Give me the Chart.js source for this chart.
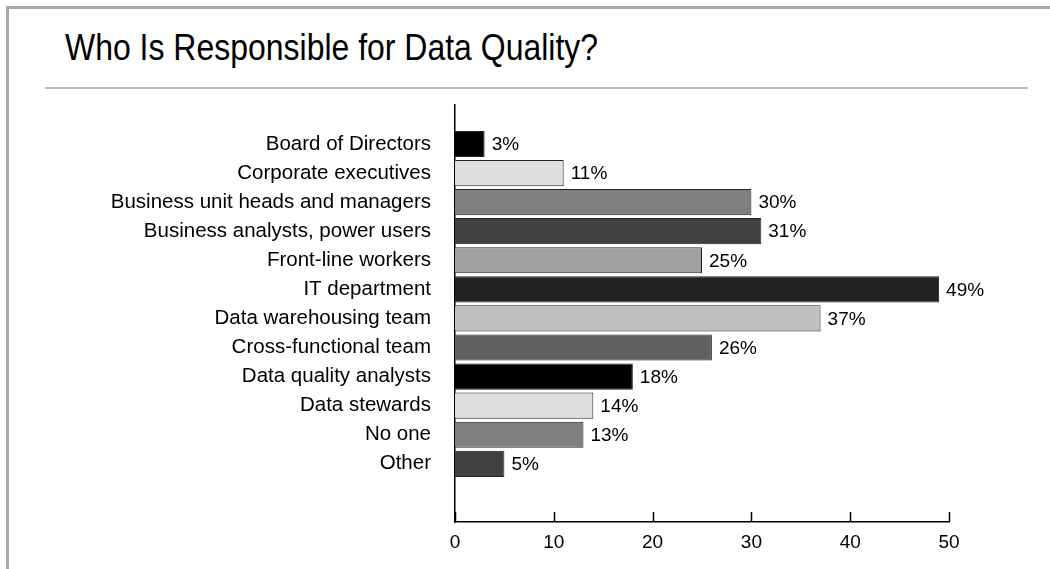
<!DOCTYPE html>
<html>
<head>
<meta charset="utf-8">
<script src="https://cdn.jsdelivr.net/npm/chart.js@4.4.1/dist/chart.umd.min.js"></script>
<style>
  html, body { margin: 0; padding: 0; background: #fff; }
  body { width: 1050px; height: 569px; position: relative; overflow: hidden;
    font-family: 'Liberation Sans', Arial, sans-serif; }
  .frame { position: absolute; left: 6px; top: 6px; right: -4px; bottom: -4px;
    border-top: 3px solid #aaa; border-left: 3px solid #aaa; }
  h1 { position: absolute; left: 65px; top: 30px; margin: 0; font-weight: normal; font-size: 36px;
    line-height: 36px; color: #000; white-space: nowrap; transform: scaleX(0.888); transform-origin: 0 0; }
  .rule { position: absolute; left: 45px; width: 983px; top: 87px; height: 2px; background: #bdbdbd; }
  #c { position: absolute; left: 0; top: 0; }
</style>
</head>
<body>
<div class="frame"></div>
<h1>Who Is Responsible for Data Quality?</h1>
<div class="rule"></div>
<canvas id="c" width="1050" height="569"></canvas>
<script>
// survey answers, top to bottom
var CATEGORIES = ['Board of Directors', 'Corporate executives', 'Business unit heads and managers',
  'Business analysts, power users', 'Front-line workers', 'IT department', 'Data warehousing team',
  'Cross-functional team', 'Data quality analysts', 'Data stewards', 'No one', 'Other'];
var PERCENT = [3, 11, 30, 31, 25, 49, 37, 26, 18, 14, 13, 5];
var BAR_COLORS = ['#000000', '#dedede', '#808080', '#404040', '#a0a0a0', '#222222',
  '#c0c0c0', '#606060', '#000000', '#dedede', '#808080', '#404040'];
var X_TICKS = [0, 10, 20, 30, 40, 50];

var FONT = "'Liberation Sans', Arial, sans-serif";

// value labels at the bar ends + inward ticks on the x axis
var extras = {
  id: 'extras',
  afterDatasetsDraw: function (chart) {
    var ctx = chart.ctx, meta = chart.getDatasetMeta(0);
    ctx.save();
    ctx.font = '19px ' + FONT; ctx.fillStyle = '#000'; ctx.textBaseline = 'middle'; ctx.textAlign = 'left';
    meta.data.forEach(function (bar, i) { ctx.fillText(PERCENT[i] + '%', bar.x + 7, bar.y + 1); });
    var xs = chart.scales.x, b = chart.chartArea.bottom;
    ctx.strokeStyle = '#000'; ctx.lineWidth = 1.5;
    X_TICKS.forEach(function (v) {
      var px = Math.round(xs.getPixelForValue(v)) + 0.5;
      ctx.beginPath(); ctx.moveTo(px, b); ctx.lineTo(px, b - 10); ctx.stroke();
    });
    ctx.restore();
  }
};

new Chart(document.getElementById('c'), {
  type: 'bar',
  data: {
    datasets: [{
      data: PERCENT.map(function (v, i) { return { x: v, y: i }; }),
      backgroundColor: BAR_COLORS,
      borderColor: '#222',
      borderWidth: 1,
      barPercentage: 0.9,
      categoryPercentage: 1
    }]
  },
  options: {
    indexAxis: 'y',
    responsive: false,
    animation: false,
    devicePixelRatio: 1,
    layout: { padding: { left: 0, right: 101, top: 105, bottom: 0 } },
    plugins: { legend: { display: false }, tooltip: { enabled: false } },
    scales: {
      x: {
        type: 'linear', min: 0, max: 50,
        afterFit: function (s) { s.height = 47; },
        grid: { display: false, drawTicks: false },
        border: { display: true, color: '#000', width: 1.5 },
        ticks: { stepSize: 10, padding: 9, color: '#000', font: { family: FONT, size: 19 } }
      },
      y: {
        type: 'linear', reverse: true, min: -1.34, max: 13, offset: false,
        afterFit: function (s) { s.width = 455; },
        grid: { display: false, drawTicks: false, offset: false },
        border: { display: true, color: '#000', width: 1.5 },
        ticks: {
          stepSize: 1, autoSkip: false, padding: 24, color: '#000',
          font: { family: FONT, size: 20.5 },
          callback: function (v) { return (Number.isInteger(v) && CATEGORIES[v]) ? CATEGORIES[v] : ''; }
        }
      }
    }
  },
  plugins: [extras]
});
</script>
</body>
</html>
